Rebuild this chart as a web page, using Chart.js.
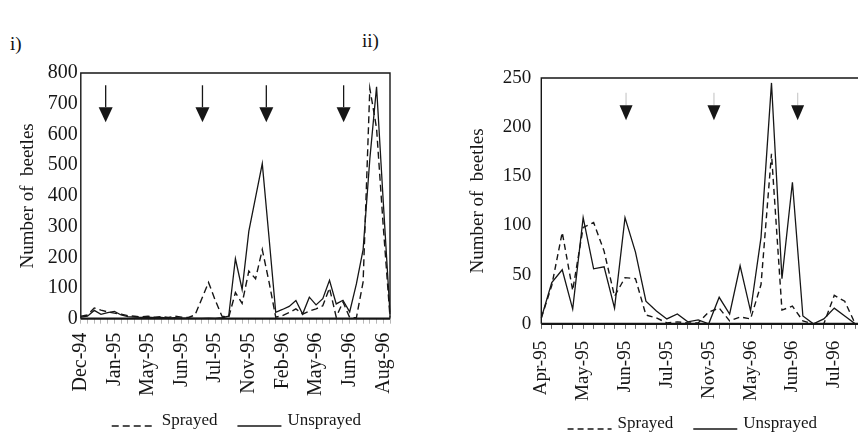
<!DOCTYPE html>
<html><head><meta charset="utf-8">
<script src="https://cdn.jsdelivr.net/npm/chart.js@4.4.0/dist/chart.umd.min.js"></script>
<style>
html,body{margin:0;padding:0;background:#fff;overflow:hidden;}
#wrap{position:relative;width:858px;height:434px;overflow:hidden;background:#fff;}
.panel{position:absolute;top:0;height:434px;}
#p1{left:0;width:430px;}
#p2{left:430px;width:460px;}
.lbl{position:absolute;font-family:"Liberation Serif",serif;font-size:19px;color:#111;}
</style></head><body>
<div id="wrap">
<div class="lbl" style="left:10px;top:33px">i)</div>
<div class="lbl" style="left:362px;top:30px">ii)</div>
<div class="panel" id="p1"><canvas id="c1"></canvas></div>
<div class="panel" id="p2"><canvas id="c2"></canvas></div>
</div>
<script>
// ---------- Panel i data ----------
const tickLabels1 = ["Dec-94","Jan-95","May-95","Jun-95","Jul-95","Nov-95","Feb-96","May-96","Jun-96","Aug-96"];
const labelEvery1 = 5;
const sprayed1 = [8,12,35,28,22,18,15,10,8,6,8,5,7,4,8,5,4,12,65,118,60,8,4,85,50,155,130,225,120,5,10,20,32,15,25,32,42,100,5,55,4,3,120,750,620,300,5];
const unsprayed1 = [5,8,27,14,20,24,12,7,5,4,5,3,4,2,3,2,2,1,1,2,1,3,8,195,95,285,395,505,265,21,30,40,59,15,70,45,65,125,48,60,22,113,225,520,755,380,15];
const sprayDates1 = [3.7, 18.1, 27.6, 39.1];

// ---------- Panel ii data ----------
const tickLabels2 = ["Apr-95","May-95","Jun-95","Jul-95","Nov-95","May-96","Jun-96","Jul-96"];
const labelEvery2 = 4;
const sprayed2 = [6,39,93,34,98,103,74,28,47,46,9,6,1,2,1,1,12,16,3,7,5,40,173,14,18,3,0,0,29,23,0];
const unsprayed2 = [6,42,55,15,108,56,58,16,108,73,23,13,5,10,2,4,0,27,10,59,13,88,245,46,144,8,0,5,16,8,0];
const sprayDates2 = [8.1, 16.5, 24.5];

const seriesNames = ["Sprayed","Unsprayed"];
const FONT = "Liberation Serif";
const INK = "#161616";

function buildLabels(ticks, every, n){
  const out = [];
  for(let i=0;i<n;i++) out.push(i % every === 0 && ticks[i/every] !== undefined ? ticks[i/every] : "");
  return out;
}

const framePlugin = {
  id:'frame',
  afterDatasetsDraw(chart, args, o){
    const ctx = chart.ctx, a = chart.chartArea;
    const right = o.extendRight ? chart.width : a.right;
    ctx.save();
    ctx.strokeStyle = INK; ctx.lineWidth = 1.4;
    ctx.beginPath();
    ctx.moveTo(a.left, a.bottom); ctx.lineTo(a.left, a.top); ctx.lineTo(right, a.top);
    if(!o.extendRight) ctx.lineTo(a.right, a.bottom);
    ctx.stroke();
    ctx.lineWidth = 2.2;
    ctx.beginPath(); ctx.moveTo(a.left, a.bottom); ctx.lineTo(right, a.bottom); ctx.stroke();
    ctx.restore();
  }
};

const arrowPlugin = {
  id:'arrows',
  afterDatasetsDraw(chart, args, o){
    const xs = chart.scales.x, ys = chart.scales.y, ctx = chart.ctx;
    ctx.save();
    o.dates.forEach(d => {
      const px = xs.getPixelForValue(d);
      const yTop = ys.getPixelForValue(o.stemTop), yTip = ys.getPixelForValue(o.tip);
      const hw = o.headW/2, hh = o.headH;
      ctx.strokeStyle = o.stemColor; ctx.lineWidth = 1.3;
      ctx.beginPath(); ctx.moveTo(px, yTop); ctx.lineTo(px, yTip - hh); ctx.stroke();
      ctx.fillStyle = INK;
      ctx.beginPath(); ctx.moveTo(px - hw, yTip - hh); ctx.lineTo(px + hw, yTip - hh); ctx.lineTo(px, yTip); ctx.closePath(); ctx.fill();
    });
    ctx.restore();
  }
};

const legendPlugin = {
  id:'lineLegend',
  afterDraw(chart, args, o){
    const ctx = chart.ctx, a = chart.chartArea;
    ctx.save();
    ctx.font = o.size + "px '" + FONT + "'";
    const items = chart.data.datasets.map(ds => ({label: ds.label, dash: ds.borderDash || [], w: ctx.measureText(ds.label).width}));
    const lw = o.lineLen, gap = 6, ig = o.itemGap;
    const total = items.reduce((s, it) => s + lw + gap + it.w, 0) + ig*(items.length-1);
    let x = (a.left + a.right)/2 - total/2 + (o.shift || 0);
    const y = o.y;
    items.forEach(it => {
      ctx.strokeStyle = INK; ctx.lineWidth = 1.3; ctx.setLineDash(it.dash);
      ctx.beginPath(); ctx.moveTo(x, y + o.lineDy); ctx.lineTo(x + lw, y + o.lineDy); ctx.stroke();
      ctx.setLineDash([]);
      ctx.fillStyle = INK; ctx.textBaseline = 'middle'; ctx.textAlign = 'left';
      ctx.fillText(it.label, x + lw + gap, y);
      x += lw + gap + it.w + ig;
    });
    ctx.restore();
  }
};

function makeChart(id, cfg){
  return new Chart(document.getElementById(id), {
    type:'line',
    data:{
      labels: buildLabels(cfg.ticks, cfg.every, cfg.s.length),
      datasets:[
        {label:seriesNames[0], data:cfg.s, borderColor:INK, borderWidth:1.4, borderDash:cfg.dash, pointRadius:0, tension:0, fill:false},
        {label:seriesNames[1], data:cfg.u, borderColor:INK, borderWidth:1.3, pointRadius:0, tension:0, fill:false}
      ]
    },
    options:{
      responsive:true, maintainAspectRatio:false, animation:false,
      layout:{padding:cfg.pad},
      plugins:{
        legend:{display:false}, tooltip:{enabled:false},
        frame:{extendRight:cfg.extendRight},
        arrows:cfg.arrows,
        lineLegend:cfg.legend
      },
      scales:{
        x:{type:'category', offset:false,
           grid:{display:true, drawOnChartArea:false, drawTicks:true, tickLength:5, color:cfg.tickColor},
           border:{display:false},
           ticks:{autoSkip:false, maxRotation:90, minRotation:90, padding:cfg.xPad, color:INK, font:{family:FONT, size:cfg.xSize}}},
        y:{min:0, max:cfg.max,
           grid:{display:false, drawTicks:false}, border:{display:false},
           ticks:{stepSize:cfg.step, padding:cfg.yPad, color:INK, font:{family:FONT, size:cfg.ySize}},
           title:{display:true, text:'Number of  beetles', color:INK, font:{family:FONT, size:19}, padding:{top:0, bottom:cfg.titlePad}}}
      }
    },
    plugins:[framePlugin, arrowPlugin, legendPlugin]
  });
}

makeChart('c1', {
  ticks:tickLabels1, every:labelEvery1, s:sprayed1, u:unsprayed1, dash:[7,4],
  pad:{left:17, right:40, top:73, bottom:29}, extendRight:false,
  arrows:{dates:sprayDates1, stemTop:760, tip:640, headW:14, headH:15, stemColor:INK},
  legend:{size:17, lineLen:44, itemGap:20, y:421, lineDy:5, shift:1},
  tickColor:'#b8b8b8', xPad:9, xSize:20, max:800, step:100, yPad:3, ySize:20, titlePad:5
});

makeChart('c2', {
  ticks:tickLabels2, every:labelEvery2, s:sprayed2, u:unsprayed2, dash:[6,4],
  pad:{left:37, right:6, top:78, bottom:21}, extendRight:true,
  arrows:{dates:sprayDates2, stemTop:235, tip:207, headW:13, headH:15, stemColor:'#cfcfcf'},
  legend:{size:17, lineLen:44, itemGap:20, y:424, lineDy:5, shift:-6},
  tickColor:'#666', xPad:12, xSize:19, max:250, step:50, yPad:10, ySize:19, titlePad:3
});
</script>
</body></html>
